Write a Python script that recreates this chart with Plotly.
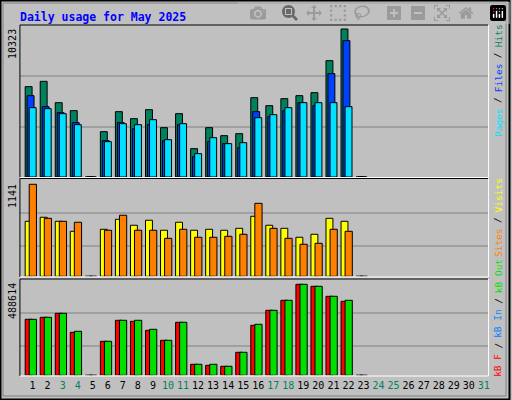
import plotly.graph_objects as go

days = list(range(1, 32))
hits  = [6301,6673,5185,4627,0,3162,4557,4069,4697,3441,4418,1976,3441,2883,3023,5534,4976,5464,5673,5882,8114,10323,0]
files = [5673,4906,4487,3790,0,2534,3790,3371,3650,2534,3650,1418,2465,2325,2046,4557,4208,4627,5185,4976,7208,9509,0]
pages = [4836,4766,4418,3650,0,2465,3720,3650,3999,2604,3720,1628,2744,2325,2395,4139,4348,4836,5185,5185,5185,4906,0]
visits = [682,732,682,558,0,583,707,633,695,571,670,571,583,571,595,744,633,595,484,521,719,682,0]
sites  = [1141,719,682,670,0,571,757,571,571,471,583,484,484,496,521,905,595,471,397,409,583,558,0]
kb_f   = [300686,311425,332903,230884,0,182560,295317,289948,241623,187929,284578,59063,53694,48325,123496,268470,349011,402705,488614,477875,424183,397336,0]
kb_out = [300686,311425,332903,236254,0,182560,295317,295317,246992,187929,284578,59063,59063,48325,123496,273839,349011,402705,488614,477875,424183,402705,0]
weekend = {3,4,10,11,17,18,24,25,31}
max_hits, max_visits, max_kb = 10323, 1141, 488614

BG = "#C0C0C0"
fig = go.Figure()
n = len(hits)
x = days[:n]

def bars(vals, color, yax, off, w=0.46):
    fig.add_trace(go.Bar(x=x, y=vals, yaxis=yax, offset=off, width=w,
                         marker=dict(color=color, line=dict(color="black", width=1)),
                         showlegend=False, hoverinfo="skip"))

bars(hits, "#00805C", "y", -0.36)
bars(files, "#0040FF", "y", -0.23)
bars(pages, "#00E0FF", "y", -0.09)
bars(visits, "#FFFF00", "y2", -0.36)
bars(sites, "#FF8000", "y2", -0.09, 0.48)
bars(kb_f, "#FF0000", "y3", -0.36)
bars(kb_out, "#00E000", "y3", -0.09, 0.48)

P = lambda px: 1 - px / 400
X = lambda px: px / 512

mono = "DejaVu Sans Mono"
ticktext = [f"<span style='color:#00805C'>{d}</span>" if d in weekend else str(d) for d in days]
axfont = dict(family=mono, size=10, color="black")

fig.update_layout(
    width=512, height=400, margin=dict(l=0, r=0, t=0, b=0),
    paper_bgcolor=BG, plot_bgcolor=BG, barmode="overlay",
    xaxis=dict(domain=[X(20), X(490)], range=[0.291, 31.417], anchor="y3",
               tickvals=days, ticktext=ticktext, tickfont=axfont, ticks="", tickangle=0,
               showgrid=False, zeroline=False, ticklabelshift=2, ticklabelstandoff=3),
    yaxis=dict(domain=[P(177), P(25)], range=[0, max_hits * 152 / 148],
               showticklabels=False, showgrid=False, zeroline=False),
    yaxis2=dict(domain=[P(276.3), P(180)], range=[0, max_visits * 96.3 / 92],
                showticklabels=False, showgrid=False, zeroline=False),
    yaxis3=dict(domain=[P(375.3), P(280)], range=[0, max_kb * 95.3 / 91],
                showticklabels=False, showgrid=False, zeroline=False),
)

shapes = []
shapes.append(dict(type="rect", xref="paper", yref="paper", x0=0.001, x1=0.999, y0=0.001, y1=0.999,
                   line=dict(color="black", width=2), layer="below"))
shapes.append(dict(type="rect", xref="paper", yref="paper", x0=X(3), x1=X(508), y0=P(396), y1=P(3),
                   line=dict(color="#808080", width=1), layer="below"))
for gy in [76, 127, 213, 246, 313, 346]:
    shapes.append(dict(type="line", xref="paper", yref="paper", x0=X(20), x1=X(490), y0=P(gy), y1=P(gy),
                       line=dict(color="#808080", width=1), layer="below"))
for top, bot in [(25, 177.5), (178.5, 277), (279, 376)]:
    shapes.append(dict(type="line", xref="paper", yref="paper", x0=X(20), x1=X(490), y0=P(top), y1=P(top), line=dict(color="black", width=1)))
    shapes.append(dict(type="line", xref="paper", yref="paper", x0=X(20), x1=X(20), y0=P(top), y1=P(bot), line=dict(color="black", width=1)))
    shapes.append(dict(type="line", xref="paper", yref="paper", x0=X(490.5), x1=X(490.5), y0=P(top), y1=P(top if False else bot), line=dict(color="white", width=1)))
    shapes.append(dict(type="line", xref="paper", yref="paper", x0=X(20), x1=X(490.5), y0=P(bot), y1=P(bot), line=dict(color="white", width=1)))
fig.update_layout(shapes=shapes)

ann = [
    dict(text="<b>Daily usage for May 2025</b>", x=X(18), y=P(8), xanchor="left", yanchor="top",
         font=dict(family=mono, size=11.5, color="#0000FF")),
    dict(text=str(max_hits), x=X(12), y=P(27), textangle=-90, xanchor="center", yanchor="top", font=axfont),
    dict(text=str(max_visits), x=X(12), y=P(182), textangle=-90, xanchor="center", yanchor="top", font=axfont),
    dict(text=str(max_kb), x=X(12), y=P(281), textangle=-90, xanchor="center", yanchor="top", font=axfont),
]

# right-side vertical legends, drawn word by word (bottom-to-top text)
CH = 5.6
def vlabel(parts, bottom_px):
    y = bottom_px
    for txt, col in parts:
        h = len(txt) * CH
        ann.append(dict(text=txt, x=X(500), y=P(y - h / 2), textangle=-90, xanchor="center", yanchor="middle",
                        font=dict(family=mono, size=9.5, color=col)))
        y -= h

vlabel([("Pages", "#00E0FF"), (" / ", "black"), ("Files", "#0040FF"), (" / ", "black"), ("Hits", "#00805C")], 137)
vlabel([("Sites", "#FF8000"), (" / ", "black"), ("Visits", "#FFFF00")], 257)
vlabel([("kB F", "#FF0000"), (" / ", "black"), ("kB In", "#0080FF"), (" / ", "black"), ("kB Out", "#00E000")], 377)

for a in ann:
    a.update(xref="paper", yref="paper", showarrow=False)
fig.update_layout(annotations=ann)

fig.write_html("out.html", post_script="document.body.style.margin='0';document.body.style.overflow='hidden';")
